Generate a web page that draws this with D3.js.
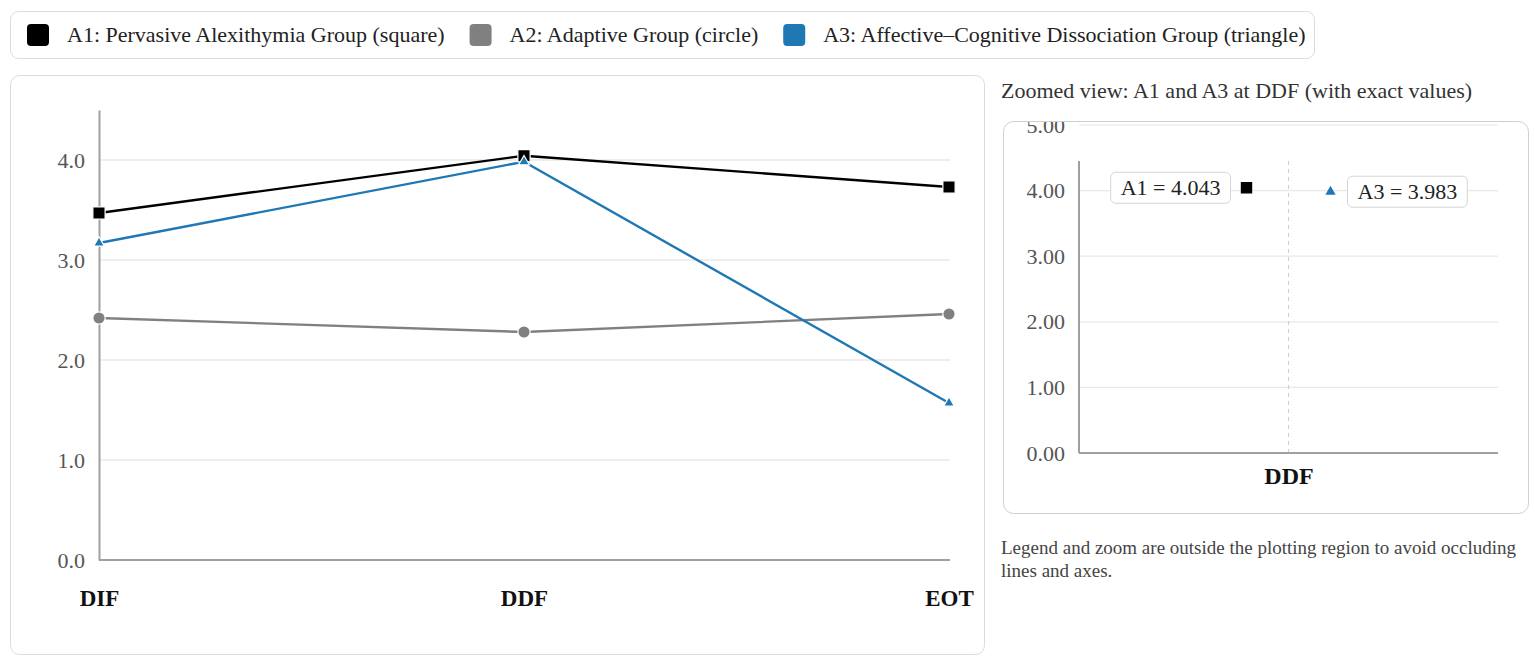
<!DOCTYPE html>
<html><head><meta charset="utf-8">
<script src="https://cdn.jsdelivr.net/npm/d3@7"></script>
<style>
body{margin:0;background:#fff;font-family:"Liberation Serif","Times New Roman",serif;}
#wrap{position:relative;width:1535px;height:661px;}
#note{position:absolute;left:1001px;top:536px;width:532px;font-size:19px;line-height:23px;color:#444;}
</style>
</head><body><div id="wrap"><svg id="c" width="1535" height="661"></svg>
<div id="note">Legend and zoom are outside the plotting region to avoid occluding lines and axes.</div></div>
<script>
const categories = ["DIF", "DDF", "EOT"];
const seriesKeys = ["A1", "A2", "A3"];
const seriesNames = ["A1: Pervasive Alexithymia Group (square)", "A2: Adaptive Group (circle)", "A3: Affective\u2013Cognitive Dissociation Group (triangle)"];
const a1Values = [3.47, 4.043, 3.73];
const a2Values = [2.42, 2.28, 2.46];
const a3Values = [3.17, 3.983, 1.57];
const mainTicks = [0, 1, 2, 3, 4];
const zoomTicks = [0, 1, 2, 3, 4, 5];
const zoomCategory = ["DDF"];
const zoomTitle = "Zoomed view: A1 and A3 at DDF (with exact values)";
const seriesColors = ["#000000", "#808080", "#1f77b4"];
const seriesSymbols = [d3.symbolSquare, d3.symbolCircle, d3.symbolTriangle];
const symbolSizes = [150, 120, 50];

const allValues = [a1Values, a2Values, a3Values];
const svg = d3.select("#c");
const FF = "Liberation Serif";

// ---- Legend ----
const leg = svg.append("g");
leg.append("rect").attr("x", 10.5).attr("y", 11.5).attr("width", 1304).attr("height", 47)
  .attr("rx", 8).attr("fill", "#fff").attr("stroke", "#dcdcdc");
let lx = 27;
seriesNames.forEach((name, i) => {
  leg.append("rect").attr("x", lx).attr("y", 24).attr("width", 22).attr("height", 22).attr("rx", 4)
    .attr("fill", seriesColors[i]);
  const t = leg.append("text").attr("x", lx + 40).attr("y", 42).attr("font-size", 22).attr("fill", "#222").text(name);
  lx += 40 + t.node().getComputedTextLength() + 25;
});

// ---- Main panel ----
svg.append("rect").attr("x", 10.5).attr("y", 75.5).attr("width", 974).attr("height", 579)
  .attr("rx", 9).attr("fill", "#fff").attr("stroke", "#dcdcdc");

const x = d3.scalePoint().domain(categories).range([99, 949]);
const y = d3.scaleLinear().domain([0, 4.5]).range([560, 110]);
const main = svg.append("g");

main.append("g").selectAll("line").data(mainTicks.filter(d => d > 0)).join("line")
  .attr("x1", 99).attr("x2", 950).attr("y1", d => y(d)).attr("y2", d => y(d))
  .attr("stroke", "#e8e8e8").attr("stroke-width", 1.5);

const yAxis = main.append("g").attr("transform", "translate(99,0)")
  .call(d3.axisLeft(y).tickValues(mainTicks).tickFormat(d3.format(".1f")).tickSize(0).tickPadding(14));
yAxis.select(".domain").attr("stroke", "#a0a0a0").attr("stroke-width", 2);
yAxis.selectAll("text").attr("font-size", 22).attr("fill", "#555").attr("font-family", FF);

const xAxis = main.append("g").attr("transform", "translate(0,560)")
  .call(d3.axisBottom(x).tickSize(0).tickPadding(30));
xAxis.select(".domain").attr("d", "M99,0H950").attr("stroke", "#a0a0a0").attr("stroke-width", 2);
xAxis.selectAll("text").attr("font-size", 23).attr("font-weight", "bold").attr("fill", "#111").attr("font-family", FF);

const line = d3.line().x((d, i) => x(categories[i])).y(d => y(d));
allValues.forEach((vals, s) => {
  main.append("path").datum(vals).attr("d", line).attr("fill", "none")
    .attr("stroke", seriesColors[s]).attr("stroke-width", 2.4);
});
allValues.forEach((vals, s) => {
  main.append("g").selectAll("path").data(vals).join("path")
    .attr("transform", (d, i) => `translate(${x(categories[i])},${y(d)})`)
    .attr("d", d3.symbol(seriesSymbols[s], symbolSizes[s]))
    .attr("fill", seriesColors[s]).attr("stroke", "#fff").attr("stroke-width", 1.2);
});

// ---- Zoom inset ----
svg.append("text").attr("x", 1001).attr("y", 98).attr("font-size", 22).attr("fill", "#333").text(zoomTitle);
svg.append("defs").append("clipPath").attr("id", "zc").append("rect")
  .attr("x", 1004).attr("y", 122).attr("width", 524).attr("height", 391).attr("rx", 10);
svg.append("rect").attr("x", 1003.5).attr("y", 121.5).attr("width", 525).attr("height", 392)
  .attr("rx", 10).attr("fill", "#fff").attr("stroke", "#cfcfcf");
const z = svg.append("g").attr("clip-path", "url(#zc)");
const zx = d3.scalePoint().domain(zoomCategory).range([1079, 1498]);
const zy = d3.scaleLinear().domain([0, 5]).range([453, 125]);

z.append("g").selectAll("line").data(zoomTicks.filter(d => d > 0)).join("line")
  .attr("x1", 1079).attr("x2", 1498).attr("y1", d => zy(d)).attr("y2", d => zy(d))
  .attr("stroke", "#e8e8e8").attr("stroke-width", 1.2);

const zyAxis = z.append("g").attr("transform", "translate(1079,0)")
  .call(d3.axisLeft(zy).tickValues(zoomTicks).tickFormat(d3.format(".2f")).tickSize(0).tickPadding(14));
zyAxis.select(".domain").attr("d", `M0,${zy(0)}V${zy(4.45)}`).attr("stroke", "#a0a0a0").attr("stroke-width", 2);
zyAxis.selectAll("text").attr("font-size", 22).attr("fill", "#555").attr("font-family", FF);

z.append("line").attr("x1", zx("DDF")).attr("x2", zx("DDF")).attr("y1", zy(4.45)).attr("y2", zy(0))
  .attr("stroke", "#cfcfcf").attr("stroke-width", 1.2).attr("stroke-dasharray", "4,4");

const zxAxis = z.append("g").attr("transform", `translate(0,${zy(0)})`)
  .call(d3.axisBottom(zx).tickSize(0).tickPadding(14));
zxAxis.select(".domain").attr("d", "M1079,0H1498").attr("stroke", "#a0a0a0").attr("stroke-width", 2);
zxAxis.selectAll("text").attr("font-size", 24).attr("font-weight", "bold").attr("fill", "#111").attr("font-family", FF);

const ddfIndex = categories.indexOf("DDF");
const zoomPoints = [
  {key: "A1", s: 0, v: a1Values[ddfIndex], dx: -42, side: "left"},
  {key: "A3", s: 2, v: a3Values[ddfIndex], dx: 42, side: "right"}
];
zoomPoints.forEach(p => {
  const cx = zx("DDF") + p.dx, cy = zy(p.v);
  z.append("path").attr("transform", `translate(${cx},${cy})`)
    .attr("d", d3.symbol(seriesSymbols[p.s], p.s === 0 ? 130 : 45))
    .attr("fill", seriesColors[p.s]);
  const g = z.append("g");
  const t = g.append("text").attr("font-size", 22).attr("fill", "#222").attr("y", cy + 7)
    .text(`${p.key} = ${d3.format(".3f")(p.v)}`);
  const w = t.node().getComputedTextLength();
  const bw = w + 20, bh = 31;
  const bx = p.side === "left" ? cx - 16 - bw : cx + 17;
  g.insert("rect", "text").attr("x", bx).attr("y", cy - bh / 2).attr("width", bw).attr("height", bh)
    .attr("rx", 5).attr("fill", "#fff").attr("stroke", "#d5d5d5");
  t.attr("x", bx + 10);
});
</script>
</body></html>
